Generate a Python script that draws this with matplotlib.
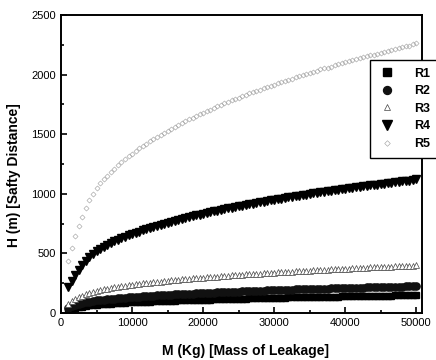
import numpy as np
import matplotlib
matplotlib.use('Agg')
from matplotlib import pyplot as plt
from matplotlib.ticker import MultipleLocator

plt.rcParams['font.family'] = ['Liberation Sans', 'DejaVu Sans']

# mass of leakage (kg)
M = np.arange(1000, 50001, 500)

# safety distance (m)
R1 = [29, 36, 43, 48, 53, 58, 63, 66, 69, 72,
      74, 76, 78, 80, 82, 84, 85, 87, 88, 90,
      91, 92, 93, 95, 96, 97, 98, 100, 101, 102,
      103, 104, 105, 106, 107, 108, 109, 110, 111, 112,
      112, 113, 114, 115, 116, 117, 117, 118, 119, 120,
      120, 121, 122, 123, 123, 124, 125, 126, 126, 127,
      128, 128, 129, 130, 130, 131, 131, 132, 133, 133,
      134, 135, 135, 136, 136, 137, 137, 138, 138, 139,
      140, 140, 141, 141, 142, 142, 143, 143, 144, 144,
      145, 145, 146, 146, 147, 147, 148, 148, 149]
R2 = [43, 54, 64, 72, 80, 87, 94, 99, 104, 108,
      111, 114, 117, 120, 123, 126, 128, 130, 132, 135,
      137, 139, 141, 143, 144, 146, 148, 150, 151, 153,
      155, 156, 158, 159, 161, 162, 164, 165, 166, 168,
      169, 170, 172, 173, 174, 175, 177, 178, 179, 180,
      181, 182, 183, 185, 186, 187, 188, 189, 190, 191,
      192, 193, 194, 195, 196, 197, 198, 199, 200, 201,
      201, 202, 203, 204, 205, 206, 207, 207, 208, 209,
      210, 211, 212, 212, 213, 214, 215, 215, 216, 217,
      218, 219, 219, 220, 221, 222, 222, 223, 224]
R3 = [77, 96, 114, 129, 142, 155, 167, 177, 185, 192,
      198, 203, 208, 214, 219, 224, 228, 232, 236, 240,
      243, 247, 250, 254, 257, 260, 263, 267, 269, 272,
      275, 278, 281, 284, 286, 289, 291, 294, 296, 299,
      301, 303, 305, 308, 310, 312, 314, 316, 319, 321,
      323, 325, 326, 329, 330, 333, 334, 336, 338, 340,
      341, 343, 345, 347, 349, 350, 352, 354, 355, 357,
      358, 360, 362, 363, 365, 366, 368, 369, 371, 372,
      374, 375, 377, 378, 380, 381, 382, 383, 385, 386,
      388, 389, 391, 392, 393, 394, 396, 397, 399]
R4 = [215, 270, 320, 362, 400, 436, 470, 496, 520, 538,
      555, 570, 585, 600, 615, 628, 640, 651, 662, 673,
      683, 693, 703, 713, 722, 731, 740, 749, 757, 765,
      773, 781, 789, 797, 804, 811, 818, 825, 832, 839,
      845, 852, 858, 865, 871, 877, 883, 889, 895, 901,
      906, 912, 917, 923, 928, 934, 939, 944, 949, 954,
      959, 964, 969, 974, 979, 984, 988, 993, 998, 1003,
      1007, 1012, 1016, 1020, 1024, 1029, 1033, 1037, 1041, 1046,
      1050, 1054, 1058, 1062, 1066, 1070, 1074, 1077, 1081, 1085,
      1089, 1093, 1097, 1101, 1104, 1108, 1111, 1116, 1122]
R5 = [434, 545, 646, 731, 808, 881, 949, 1002, 1050, 1087,
      1121, 1151, 1182, 1212, 1242, 1269, 1293, 1315, 1337, 1359,
      1380, 1400, 1420, 1440, 1458, 1477, 1495, 1513, 1529, 1545,
      1561, 1578, 1594, 1610, 1624, 1638, 1652, 1667, 1681, 1695,
      1707, 1721, 1733, 1747, 1759, 1772, 1784, 1796, 1808, 1820,
      1830, 1842, 1852, 1864, 1875, 1887, 1897, 1907, 1917, 1927,
      1937, 1947, 1957, 1967, 1978, 1988, 1996, 2006, 2016, 2026,
      2034, 2044, 2052, 2060, 2068, 2078, 2087, 2095, 2103, 2113,
      2121, 2129, 2137, 2145, 2153, 2161, 2169, 2175, 2184, 2192,
      2200, 2208, 2216, 2224, 2230, 2238, 2244, 2254, 2265]

fig = plt.figure(figsize=(4.36, 3.6), dpi=100)
ax = fig.add_axes([0.140, 0.131, 0.828, 0.827])

ax.plot(M, R1, 's', color='black', markersize=4.8, label='R1')
ax.plot(M, R2, 'o', color='#111111', markersize=5.2, label='R2')
ax.plot(M, R3, '^', mfc='white', mec='#444444', mew=0.5, markersize=4.5, label='R3')
ax.plot(M, R4, 'v', color='black', markersize=6, label='R4')
ax.plot(M, R5, 'D', mfc='none', mec='#9a9a9a', mew=0.4, markersize=2.6, label='R5')

ax.set_xlim(0, 50800)
ax.set_ylim(0, 2500)
ax.xaxis.set_major_locator(MultipleLocator(10000))
ax.xaxis.set_minor_locator(MultipleLocator(5000))
ax.yaxis.set_major_locator(MultipleLocator(500))
ax.yaxis.set_minor_locator(MultipleLocator(250))
ax.tick_params(which='both', direction='in', labelsize=8, width=1.2)
ax.tick_params(which='major', length=4)
ax.tick_params(which='minor', length=2.5)
for s in ax.spines.values():
    s.set_linewidth(1.4)

ax.set_xlabel('M (Kg) [Mass of Leakage]', fontsize=10, fontweight='bold')
ax.set_ylabel('H (m) [Safty Distance]', fontsize=10, fontweight='bold')
ax.xaxis.set_label_coords(0.512, -0.105)
ax.yaxis.set_label_coords(-0.11, 0.463)

leg = fig.legend(loc='upper left', bbox_to_anchor=(0.849, 0.833), borderaxespad=0,
                 fancybox=False, edgecolor='black', framealpha=1,
                 prop={'weight': 'bold', 'size': 9}, markerscale=1.1,
                 handletextpad=1.4, labelspacing=0.45, borderpad=0.6, handlelength=1.5)
leg.get_frame().set_linewidth(1.0)

fig.savefig('out.png', dpi=100)
